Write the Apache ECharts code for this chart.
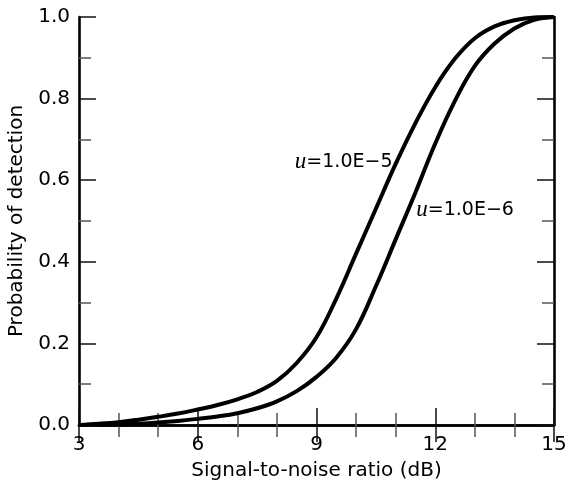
<!DOCTYPE html>
<html>
<head>
<meta charset="utf-8">
<script src="https://cdn.jsdelivr.net/npm/echarts@6/dist/echarts.min.js"></script>
<style>html,body{margin:0;padding:0;background:#fff}#c{width:567px;height:481px}</style>
</head>
<body>
<div id="c"></div>
<script>
// SNR values (dB) and probability of detection
const snrA = [3, 3.5, 4, 4.5, 5, 5.5, 6, 6.5, 7, 7.5, 8, 8.5, 9, 9.5, 10, 10.5, 11, 11.5, 12, 12.5, 13, 13.5, 14, 14.5, 15];
const pdA  = [0, 0.003, 0.007, 0.013, 0.020, 0.028, 0.038, 0.049, 0.063, 0.081, 0.108, 0.152, 0.215, 0.31, 0.42, 0.53, 0.64, 0.74, 0.828, 0.898, 0.948, 0.977, 0.992, 0.999, 1.0];
const snrB = [3.5, 4, 4.5, 5, 5.5, 6, 6.5, 7, 7.5, 8, 8.5, 9, 9.5, 10, 10.5, 11, 11.5, 12, 12.5, 13, 13.5, 14, 14.5, 15];
const pdB  = [0, 0.001, 0.003, 0.006, 0.010, 0.015, 0.021, 0.029, 0.041, 0.058, 0.083, 0.118, 0.165, 0.235, 0.34, 0.455, 0.57, 0.69, 0.795, 0.88, 0.935, 0.972, 0.993, 1.0];
const labelA = '1.0E\u22125';
const labelB = '1.0E\u22126';
const xTicks = [3, 6, 9, 12, 15];
const yTicks = [0, 0.2, 0.4, 0.6, 0.8, 1.0];

const zip = (xs, ys) => xs.map((x, i) => [x, ys[i]]);
const SANS = 'DejaVu Sans';

const chart = echarts.init(document.getElementById('c'));
const axisLine = { show: true, lineStyle: { color: '#000', width: 2.6 } };
const axisTick = { show: true, inside: true, length: 17, lineStyle: { color: '#111', width: 1.5 } };
const minor = n => ({ show: true, splitNumber: n, length: 12, lineStyle: { color: '#555', width: 1.5 } });
const rich = {
  u: { fontFamily: 'Liberation Serif', fontStyle: 'italic', fontSize: 23, color: '#000', opacity: 1 },
  n: { fontFamily: SANS, fontSize: 19, color: '#000', opacity: 1 }
};
const mkLabel = (coord, pos, text) => ({
  symbol: 'circle', symbolSize: 0, silent: true, animation: false,
  data: [{ coord: coord, label: { show: true, position: pos, distance: 0, color: '#000', opacity: 1,
    formatter: '{u|u}{n|=' + text + '}', rich: rich } }]
});
chart.setOption({
  animation: false,
  grid: { left: 79, right: 13, top: 17, bottom: 56, outerBoundsMode: 'none', containLabel: false },
  xAxis: [
    {
      type: 'value', min: xTicks[0], max: xTicks[xTicks.length - 1], interval: 3, position: 'bottom',
      axisLine: axisLine, axisTick: axisTick, minorTick: minor(3), splitLine: { show: false },
      axisLabel: { fontFamily: SANS, fontSize: 20, color: '#000', margin: 10 },
      name: 'Signal-to-noise ratio (dB)', nameLocation: 'middle', nameGap: 36,
      nameTextStyle: { fontFamily: SANS, fontSize: 20, color: '#000' }
    },
    {
      type: 'value', min: 3, max: 15, interval: 3, position: 'top',
      axisLine: axisLine, axisTick: axisTick, minorTick: minor(3),
      axisLabel: { show: false }, splitLine: { show: false }
    }
  ],
  yAxis: [
    {
      type: 'value', min: yTicks[0], max: yTicks[yTicks.length - 1], interval: 0.2, position: 'left',
      axisLine: axisLine, axisTick: axisTick, minorTick: minor(2), splitLine: { show: false },
      axisLabel: { fontFamily: SANS, fontSize: 20, color: '#000', margin: 9, formatter: v => v.toFixed(1) },
      name: 'Probability of detection', nameLocation: 'middle', nameGap: 51,
      nameTextStyle: { fontFamily: SANS, fontSize: 20, color: '#000' }
    },
    {
      type: 'value', min: 0, max: 1, interval: 0.2, position: 'right',
      axisLine: axisLine, axisTick: axisTick, minorTick: minor(2),
      axisLabel: { show: false }, splitLine: { show: false }
    }
  ],
  series: [
    {
      type: 'line', data: zip(snrA, pdA), smooth: 0.4, showSymbol: false,
      lineStyle: { color: '#000', width: 4 }, itemStyle: { color: '#000' }, z: 3,
      markPoint: mkLabel([10.92, 0.645], 'left', labelA)
    },
    {
      type: 'line', data: zip(snrB, pdB), smooth: 0.4, showSymbol: false,
      lineStyle: { color: '#000', width: 4 }, itemStyle: { color: '#000' }, z: 3,
      markPoint: mkLabel([11.52, 0.527], 'right', labelB)
    }
  ]
});
</script>
</body>
</html>
